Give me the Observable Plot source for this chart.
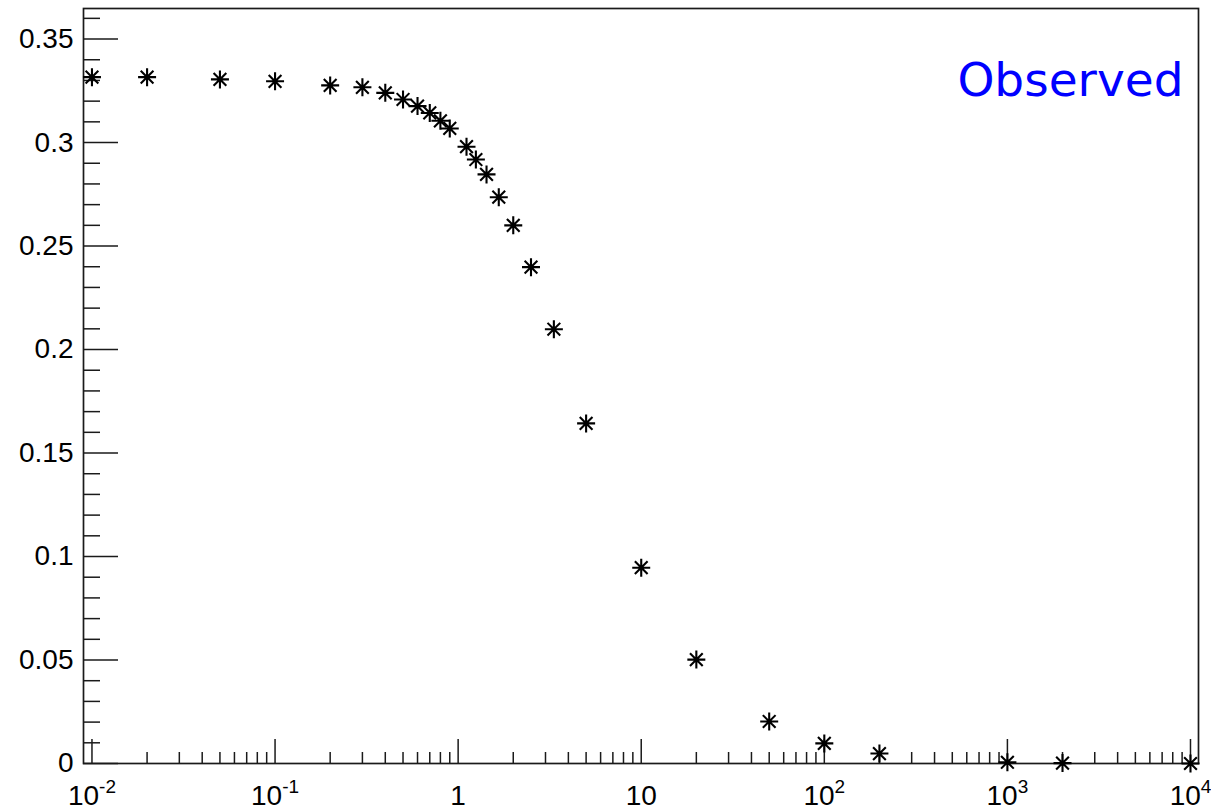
<!DOCTYPE html>
<html>
<head>
<meta charset="utf-8">
<script src="https://cdn.jsdelivr.net/npm/d3@7"></script>
<script src="https://cdn.jsdelivr.net/npm/@observablehq/plot@0.6"></script>
<style>
  html, body { margin: 0; padding: 0; background: #fff; }
  #chart svg { display: block; }
</style>
</head>
<body>
<div id="chart"></div>
<script>
// Data
const xValues = [0.01, 0.02, 0.05, 0.1, 0.2, 0.3, 0.4, 0.5, 0.6, 0.7, 0.8, 0.9,
  1.111, 1.25, 1.429, 1.667, 2, 2.5, 3.333, 5, 10, 20, 50, 100, 200, 1000, 2000, 10000];
const yValues = [0.3316, 0.3316, 0.3305, 0.3296, 0.3276, 0.3267, 0.3240, 0.3208, 0.3176, 0.3143, 0.3105, 0.3068,
  0.2980, 0.2918, 0.2846, 0.2736, 0.2600, 0.2398, 0.2098, 0.1643, 0.0946, 0.0502, 0.0203, 0.0097, 0.0048, 0.0006, 0.0002, 0.0];
const xTickValues = [0.01, 0.1, 1, 10, 100, 1000, 10000];
const xTickLabels = ["10^-2", "10^-1", "1", "10", "10^2", "10^3", "10^4"];
const yTickValues = [0, 0.05, 0.1, 0.15, 0.2, 0.25, 0.3, 0.35];
const yTickLabels = ["0", "0.05", "0.1", "0.15", "0.2", "0.25", "0.3", "0.35"];
const seriesLabel = "Observed";

const points = xValues.map((x, i) => ({x, y: yValues[i]}));

// minor ticks
const xMinor = [];
for (let e = -2; e < 4; e++) for (let k = 2; k <= 9; k++) xMinor.push(+(k * Math.pow(10, e)).toPrecision(3));
const yMinor = d3.range(0, 37).map(i => +(i * 0.01).toFixed(2)).filter(v => Math.round(v * 100) % 5 !== 0);

const W = 1211, H = 812;
const mL = 83, mR = 13, mT = 8, mB = 49;
const innerW = W - mL - mR, innerH = H - mT - mB;
const yMax = 1.1 * d3.max(yValues);

// ROOT-style 8-arm asterisk marker
const star8 = {
  draw(ctx, size) {
    const r = Math.sqrt(size / Math.PI), d = r * Math.SQRT1_2;
    ctx.moveTo(-r, 0); ctx.lineTo(r, 0);
    ctx.moveTo(0, -r); ctx.lineTo(0, r);
    ctx.moveTo(-d, -d); ctx.lineTo(d, d);
    ctx.moveTo(-d, d); ctx.lineTo(d, -d);
  }
};

const tickColor = "#1a1a1a";
const svg = Plot.plot({
  width: W, height: H,
  marginLeft: mL, marginRight: mR, marginTop: mT, marginBottom: mB,
  style: {fontFamily: "'Liberation Sans', Arial, Helvetica, sans-serif", color: "#000", background: "#fff"},
  x: {type: "log", domain: [0.00899, 11060]},
  y: {domain: [0, yMax]},
  marks: [
    Plot.tickY(yTickValues, {y: d => d, insetRight: innerW - 35, stroke: tickColor, strokeWidth: 1.5}),
    Plot.tickY(yMinor, {y: d => d, insetRight: innerW - 17, stroke: tickColor, strokeWidth: 1.5}),
    Plot.tickX(xTickValues, {x: d => d, insetTop: innerH - 24, stroke: tickColor, strokeWidth: 1.5}),
    Plot.tickX(xMinor, {x: d => d, insetTop: innerH - 11, stroke: tickColor, strokeWidth: 1.5}),
    Plot.axisY({ticks: yTickValues, tickSize: 0, tickPadding: 10, label: null, fontSize: 28,
      tickFormat: d => yTickLabels[yTickValues.indexOf(d)]}),
    Plot.axisX({ticks: xTickValues, tickSize: 0, tickPadding: 22, label: null, fontSize: 28,
      tickFormat: d => xTickLabels[xTickValues.indexOf(d)]}),
    Plot.frame({stroke: tickColor, strokeWidth: 1.7}),
    Plot.dot(points, {x: "x", y: "y", symbol: star8, r: 9, fill: "none", stroke: "#000", strokeWidth: 2.1}),
    Plot.text([seriesLabel], {text: d => d, frameAnchor: "top-right", textAnchor: "end", lineAnchor: "top",
      dx: -15, dy: 54, fontSize: 47, fill: "#0000ff", fontFamily: "'DejaVu Sans', sans-serif"})
  ]
});

// turn "10^n" labels into base + superscript
svg.querySelectorAll("text").forEach(t => {
  const m = /^10\^(.+)$/.exec(t.textContent);
  if (!m) return;
  t.textContent = "";
  const ns = "http://www.w3.org/2000/svg";
  const base = document.createElementNS(ns, "tspan");
  base.textContent = "10";
  const sup = document.createElementNS(ns, "tspan");
  sup.textContent = m[1];
  sup.setAttribute("font-size", "19");
  sup.setAttribute("dy", "-12");
  t.appendChild(base); t.appendChild(sup);
});

document.getElementById("chart").appendChild(svg);
</script>
</body>
</html>
